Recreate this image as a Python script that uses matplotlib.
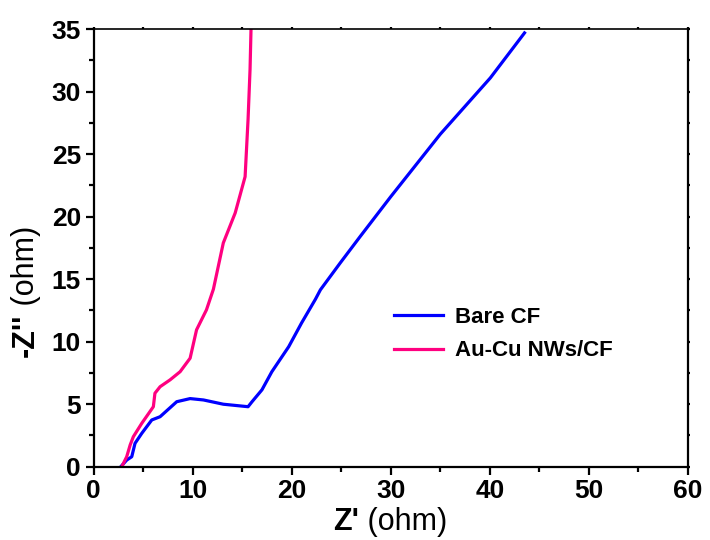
import numpy as np
import matplotlib
matplotlib.use('Agg')
import matplotlib.pyplot as plt
from matplotlib.ticker import MultipleLocator

plt.rcParams['font.family'] = ['Liberation Sans', 'DejaVu Sans']

# Nyquist data
bare_x = [2.75, 3.35, 3.86, 4.19, 4.87, 5.88, 6.72, 8.4, 9.75, 11.1, 13.1, 15.6,
          16.0, 17.0, 18.0, 19.7, 21.0, 22.4, 22.9, 24.9, 26.9, 30.0, 35.0, 40.05, 43.5]
bare_y = [0.0, 0.53, 0.8, 1.87, 2.67, 3.74, 4.0, 5.2, 5.45, 5.34, 5.0, 4.8,
          5.2, 6.15, 7.6, 9.6, 11.5, 13.4, 14.15, 16.3, 18.4, 21.6, 26.6, 31.1, 34.7]

aucu_x = [2.85, 3.35, 3.7, 4.02, 4.87, 6.04, 6.2, 6.72, 7.73, 8.74, 9.75, 10.4,
          11.4, 12.1, 13.1, 14.3, 15.3, 15.6, 15.8, 15.9]
aucu_y = [0.0, 0.8, 1.74, 2.4, 3.47, 4.8, 5.88, 6.4, 6.95, 7.6, 8.68, 10.95,
          12.55, 14.2, 17.9, 20.3, 23.2, 27.8, 31.8, 35.1]

labels = ['Bare CF', 'Au-Cu NWs/CF']
colors = ['#0000ff', '#ff0080']

fig = plt.figure(figsize=(7.1, 5.4), dpi=100)
ax = fig.add_axes([0.1317, 0.1357, 0.8373, 0.8103])

ax.plot(bare_x, bare_y, color=colors[0], lw=2.3, label=labels[0], solid_joinstyle='round')
ax.plot(aucu_x, aucu_y, color=colors[1], lw=2.3, label=labels[1], solid_joinstyle='round')

ax.set_xlim(0, 60)
ax.set_ylim(0, 35)
ax.xaxis.set_major_locator(MultipleLocator(10))
ax.xaxis.set_minor_locator(MultipleLocator(5))
ax.yaxis.set_major_locator(MultipleLocator(5))
ax.yaxis.set_minor_locator(MultipleLocator(2.5))

for s in ax.spines.values():
    s.set_linewidth(1.6)
ax.spines['top'].set_linewidth(1.2)
ax.tick_params(which='major', direction='out', length=6, width=1.6,
               labelsize=19, pad=3, top=True, right=True)
ax.tick_params(which='minor', direction='out', length=3.5, width=1.6,
               top=True, right=True)
# tiny ticks on top/right like the original
for t in ax.xaxis.get_major_ticks() + ax.xaxis.get_minor_ticks():
    t.tick2line.set_markersize(1.5)
for t in ax.yaxis.get_major_ticks() + ax.yaxis.get_minor_ticks():
    t.tick2line.set_markersize(1.5)
for lab in ax.get_xticklabels() + ax.get_yticklabels():
    lab.set_fontweight('bold')

# axis labels: bold symbol, regular unit
xl = fig.text(333 / 710, 1 - 530 / 540, "Z'", fontsize=22, fontweight='bold',
              ha='left', va='baseline')
ax.annotate(" (ohm)", xy=(1, 0), xycoords=xl, fontsize=22,
            ha='left', va='bottom', annotation_clip=False)
yl = fig.text(41 / 710, 1 - 357 / 540, "-Z''", fontsize=22, fontweight='bold',
              rotation=90, ha='right', va='bottom')
ax.annotate(" (ohm)", xy=(0, 1), xycoords=yl, fontsize=22, rotation=90,
            ha='left', va='bottom', annotation_clip=False)

leg = ax.legend(loc='upper left', bbox_to_anchor=(0.49, 0.385), frameon=False,
                prop={'size': 16, 'weight': 'bold'}, handlelength=2.2,
                handletextpad=0.55, labelspacing=0.55, borderaxespad=0)

fig.savefig('out.png', dpi=100)
